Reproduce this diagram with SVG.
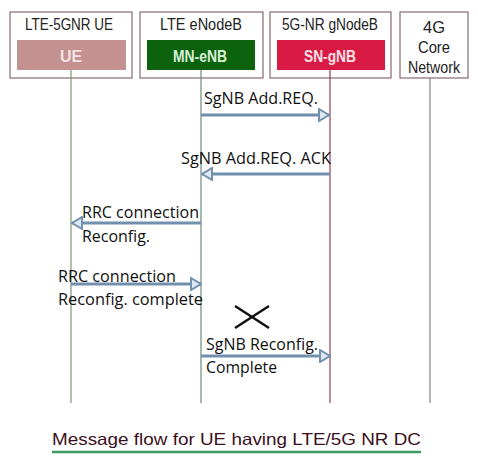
<svg xmlns="http://www.w3.org/2000/svg" width="478" height="466" viewBox="0 0 478 466">
<style>
.frame{fill:#fff;stroke:#8a6a6e;stroke-width:1.2}
.hdr{font-family:"Liberation Sans",Arial,sans-serif;font-size:16.5px;fill:#222;text-anchor:middle}
.lbl{font-family:"Liberation Sans",Arial,sans-serif;font-size:16px;font-weight:bold;text-anchor:middle}
.msg{font-family:"Open Sans","Liberation Sans",sans-serif;font-size:16px;fill:#111}
.life{stroke-width:1.2;fill:none}
.arr{stroke:#7090ae;stroke-width:3;fill:none}
</style>
<defs>
<marker id="ah" viewBox="0 0 12 14" refX="11" refY="7" markerWidth="12" markerHeight="14" markerUnits="userSpaceOnUse" orient="auto">
<path d="M1,1 L11,7 L1,13 Z" fill="#dfe7f0" stroke="#7090ae" stroke-width="2"/>
</marker>
</defs>
<rect width="478" height="466" fill="#fff"/>
<g id="node-ue">
<rect class="frame" x="10" y="12" width="122" height="66"/>
<text class="hdr" x="69" y="30" textLength="88" lengthAdjust="spacingAndGlyphs">LTE-5GNR UE</text>
<rect x="17" y="40" width="109" height="30" fill="#c49090"/>
<text class="lbl" x="71" y="62" fill="#f4e4e4" font-weight="normal">UE</text>
</g>
<g id="node-enb">
<rect class="frame" x="140" y="12" width="123" height="66"/>
<text class="hdr" x="201" y="30" textLength="82" lengthAdjust="spacingAndGlyphs">LTE eNodeB</text>
<rect x="147" y="40" width="108" height="30" fill="#0d620d"/>
<text class="lbl" x="200" y="62" fill="#d8f0d8" textLength="54" lengthAdjust="spacingAndGlyphs">MN-eNB</text>
</g>
<g id="node-gnb">
<rect class="frame" x="270" y="12" width="121" height="66"/>
<text class="hdr" x="330" y="30" textLength="96" lengthAdjust="spacingAndGlyphs">5G-NR gNodeB</text>
<rect x="277" y="40" width="108" height="30" fill="#d81a44"/>
<text class="lbl" x="330" y="62" fill="#fbe0e6" textLength="52" lengthAdjust="spacingAndGlyphs">SN-gNB</text>
</g>
<g id="node-core">
<rect class="frame" x="400" y="12" width="68" height="66"/>
<text class="hdr" x="434" y="33">4G</text>
<text class="hdr" x="434" y="53" textLength="32" lengthAdjust="spacingAndGlyphs">Core</text>
<text class="hdr" x="434" y="73" textLength="52" lengthAdjust="spacingAndGlyphs">Network</text>
</g>
<g id="lifelines">
<line class="life" x1="71" y1="70" x2="71" y2="403" stroke="#7a9a70"/>
<line class="life" x1="201" y1="70" x2="201" y2="403" stroke="#6a8a78"/>
<line class="life" x1="330" y1="70" x2="330" y2="403" stroke="#904058"/>
<line class="life" x1="430" y1="78" x2="430" y2="403" stroke="#8a8080"/>
</g>
<g id="connectors">
<line class="arr" x1="201" y1="115" x2="329" y2="115" marker-end="url(#ah)"/>
<line class="arr" x1="330" y1="174" x2="202" y2="174" marker-end="url(#ah)"/>
<line class="arr" x1="201" y1="223" x2="72" y2="223" marker-end="url(#ah)"/>
<line class="arr" x1="71" y1="284" x2="201" y2="284" marker-end="url(#ah)"/>
<line class="arr" x1="201" y1="356" x2="330" y2="356" marker-end="url(#ah)"/>
</g>
<g id="labels">
<text class="msg" x="204" y="104" textLength="114" lengthAdjust="spacingAndGlyphs">SgNB Add.REQ.</text>
<text class="msg" x="181" y="164" textLength="150" lengthAdjust="spacingAndGlyphs">SgNB Add.REQ. ACK</text>
<text class="msg" x="82" y="218" textLength="117" lengthAdjust="spacingAndGlyphs">RRC connection</text>
<text class="msg" x="82" y="242" textLength="68" lengthAdjust="spacingAndGlyphs">Reconfig.</text>
<text class="msg" x="58" y="282" textLength="118" lengthAdjust="spacingAndGlyphs">RRC connection</text>
<text class="msg" x="58" y="305" textLength="145" lengthAdjust="spacingAndGlyphs">Reconfig. complete</text>
<text class="msg" x="206" y="350" textLength="112" lengthAdjust="spacingAndGlyphs">SgNB Reconfig.</text>
<text class="msg" x="206" y="373" textLength="71" lengthAdjust="spacingAndGlyphs">Complete</text>
</g>
<g id="xmark" stroke="#111" stroke-width="2.5">
<line x1="235" y1="306" x2="269" y2="328"/>
<line x1="235" y1="328" x2="269" y2="306"/>
</g>
<g id="caption">
<text x="52" y="445" font-family="'Liberation Sans',Arial,sans-serif" font-size="16.5" fill="#3a1020" textLength="369" lengthAdjust="spacingAndGlyphs">Message flow for UE having LTE/5G NR DC</text>
<line x1="52" y1="452" x2="421" y2="452" stroke="#3f9a60" stroke-width="2.5"/>
</g>
</svg>
